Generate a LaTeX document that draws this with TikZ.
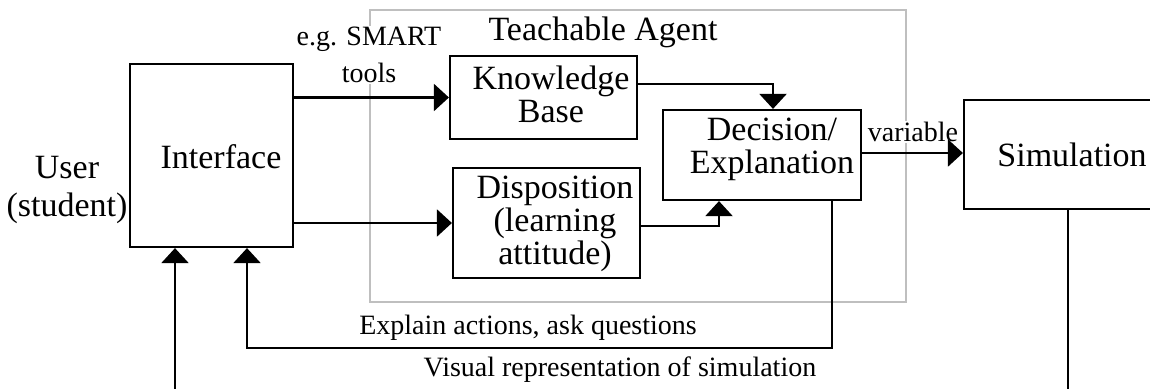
\documentclass[tikz,border=0pt]{standalone}
\usepackage{fontspec}
\setmainfont{Liberation Serif}
\usetikzlibrary{arrows.meta}
\begin{document}
\begin{tikzpicture}[x=1pt,y=-1pt,
  box/.style={draw,line width=2.2pt,inner sep=0pt},
  big/.style={font=\fontsize{34}{33}\selectfont,align=center,inner sep=0pt},
  small/.style={font=\fontsize{28}{37}\selectfont,align=center,inner sep=1pt},
  conn/.style={line width=2.2pt},
  arr/.style={conn,-{Triangle[length=15pt,width=27pt]}},
  agentframe/.style={draw=black!25,line width=2pt},
]
\useasboundingbox (0,0) rectangle (1150,388);
\begin{scope}
\clip (0,0) rectangle (1150,388);
% agent frame
\draw[agentframe] (370,10) rectangle (906,302);
\node[big] (agentlbl) at (603,32) {Teachable Agent};
% boxes
\node[box,minimum width=163pt,minimum height=183pt] (iface) at (211.5,155.5) {};
\node[big] (ifacetxt) at (221,157) {Interface};
\node[box,minimum width=187pt,minimum height=83pt] (kb) at (543.5,97.5) {};
\node[big] (kbtxt) at (551,94) {Knowledge\\Base};
\node[box,minimum width=198pt,minimum height=90pt] (dec) at (762,155) {};
\node[big] (dectxt) at (772,149) {Decision/\\Explanation};
\node[box,minimum width=187pt,minimum height=110pt] (disp) at (546.5,223) {};
\node[big] (disptxt) at (555,224) {Disposition\\(learning\\attitude)};
\node[box,minimum width=216pt,minimum height=109pt,big] (sim) at (1072,154.5) {Simulation};
\node[big,font=\fontsize{34}{38}\selectfont] (user) at (67,190) {User\\(student)};
% labels
\node[small,fill=white] (smart) at (369,55) {e.g. SMART\\tools};
\node[small,fill=white] (varlbl) at (913,132) {variable};
\node[small] (explbl) at (528,328) {Explain actions, ask questions};
\node[small] (vislbl) at (620,370) {Visual representation of simulation};
% connectors
\draw[arr] (kb.west -| iface.east) -- (kb.west);
\draw[arr] (disp.west -| iface.east) -- (disp.west);
\draw[arr] ([yshift=13.5pt]kb.east) -| ([xshift=11pt]dec.north);
\draw[arr] ([yshift=-3pt]disp.east) -| ([xshift=-43pt]dec.south);
\draw[arr] ([yshift=2pt]dec.east) -- ([yshift=2pt]dec.east -| sim.west);
\draw[arr] ([xshift=70pt]dec.south) -- ++(0,147) -| ([xshift=35.5pt]iface.south);
\draw[arr] ([xshift=-4pt]sim.south) -- ++(0,220) -| ([xshift=-36.5pt]iface.south);
\end{scope}
\end{tikzpicture}
\end{document}
